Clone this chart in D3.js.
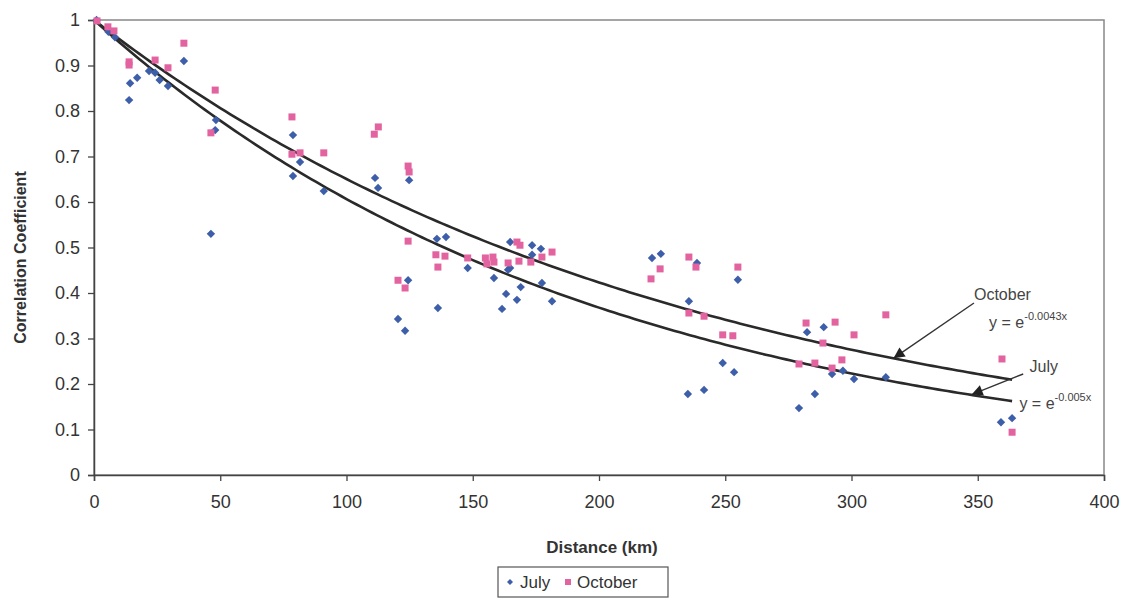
<!DOCTYPE html>
<html>
<head>
<meta charset="utf-8">
<script src="https://cdn.jsdelivr.net/npm/d3@7"></script>
<style>
  body { margin: 0; background: #fff; }
  svg { font-family: "Liberation Sans", Arial, sans-serif; }
</style>
</head>
<body>
<svg id="chart" width="1130" height="599"></svg>
<script>
// ---- data ----
const julyX = [1, 5.7, 8.3, 14.3, 13.9, 17.1, 21.8, 24.2, 26, 29.3, 35.6, 48.3, 48, 46.3, 78.8, 78.8, 81.6, 91,
  111.3, 112.5, 124.8, 124.4, 120.4, 123.2, 135.8, 139.4, 136.2, 148, 158.4, 161.6, 163.2, 164.8, 164, 164.8, 167.5, 169, 173.5, 173.5, 177, 177.4, 181.4,
  221, 224.5, 238.8, 255, 235.6, 249, 253.5, 235.2, 241.6, 282.4, 289, 292.3, 296.6, 301, 285.5, 279.2, 313.6, 359.2, 363.6];
const julyY = [1.0, 0.974, 0.962, 0.861, 0.824, 0.873, 0.888, 0.884, 0.868, 0.855, 0.91, 0.78, 0.758, 0.53, 0.747, 0.657, 0.688, 0.624,
  0.653, 0.631, 0.648, 0.428, 0.343, 0.317, 0.519, 0.523, 0.367, 0.455, 0.433, 0.365, 0.398, 0.512, 0.451, 0.455, 0.385, 0.413, 0.505, 0.484, 0.497, 0.422, 0.382,
  0.477, 0.486, 0.466, 0.429, 0.382, 0.246, 0.226, 0.178, 0.187, 0.314, 0.325, 0.222, 0.229, 0.211, 0.178, 0.147, 0.215, 0.116, 0.125];
const octX = [1.2, 5.5, 7.9, 13.9, 13.9, 24.2, 29.3, 35.6, 48, 46.3, 78.4, 78.4, 81.6, 91,
  112.6, 111, 124.4, 124.8, 124.4, 120.4, 123.2, 135.4, 139, 136.2, 148, 155, 158, 158.4, 155.6, 164, 167.5, 168.7, 168.3, 173, 177.4, 181.4,
  220.6, 224.2, 235.6, 238.4, 255, 235.6, 241.6, 249, 253, 282, 293.5, 301, 288.7, 279.2, 285.5, 292.3, 296.2, 313.6, 359.6, 363.6];
const octY = [0.998, 0.985, 0.976, 0.908, 0.901, 0.912, 0.895, 0.949, 0.846, 0.752, 0.787, 0.705, 0.708, 0.708,
  0.765, 0.749, 0.679, 0.666, 0.514, 0.428, 0.411, 0.484, 0.481, 0.457, 0.477, 0.477, 0.479, 0.468, 0.464, 0.466, 0.512, 0.505, 0.470, 0.468, 0.479, 0.490,
  0.431, 0.453, 0.479, 0.457, 0.457, 0.356, 0.349, 0.308, 0.306, 0.334, 0.336, 0.308, 0.290, 0.244, 0.246, 0.235, 0.253, 0.352, 0.255, 0.094];
const julyK = 0.005, octK = 0.0043;
const fitMaxX = 363.6;
const xTicks = [0, 50, 100, 150, 200, 250, 300, 350, 400];
const yTicks = [0, 0.1, 0.2, 0.3, 0.4, 0.5, 0.6, 0.7, 0.8, 0.9, 1];
const yTickLabels = ["0", "0.1", "0.2", "0.3", "0.4", "0.5", "0.6", "0.7", "0.8", "0.9", "1"];

// ---- layout ----
const svg = d3.select("#chart");
const L = 94, R = 1104, T = 20, B = 475;
const x = d3.scaleLinear().domain([0, 400]).range([L, R]);
const y = d3.scaleLinear().domain([0, 1]).range([B, T]);
const blue = "#3d5ea8", pink = "#e2639f", txt = "#333";

// frame
svg.append("rect").attr("x", L).attr("y", T).attr("width", R - L).attr("height", B - T)
  .attr("fill", "none").attr("stroke", "#888").attr("stroke-width", 1.5);

// axes
const xAxis = svg.append("g").attr("transform", `translate(0,${B})`)
  .call(d3.axisBottom(x).tickValues(xTicks).tickSize(6).tickPadding(14).tickFormat(d3.format("d")));
const yAxis = svg.append("g").attr("transform", `translate(${L},0)`)
  .call(d3.axisLeft(y).tickValues(yTicks).tickSize(6).tickPadding(8).tickFormat((d, i) => yTickLabels[i]));
[xAxis, yAxis].forEach(g => {
  g.select(".domain").attr("stroke", "#444").attr("stroke-width", 1.5);
  g.selectAll(".tick line").attr("stroke", "#444").attr("stroke-width", 1.3);
  g.selectAll(".tick text").attr("fill", txt).attr("font-size", 18).attr("font-family", "Liberation Sans, Arial, sans-serif");
});

// axis titles
svg.append("text").attr("x", (L + R) / 2 + 3).attr("y", 553).attr("text-anchor", "middle")
  .attr("font-weight", "bold").attr("font-size", 17).attr("fill", txt).text("Distance (km)");
svg.append("text").attr("transform", `translate(26,${(T + B) / 2 + 10}) rotate(-90)`).attr("text-anchor", "middle")
  .attr("font-weight", "bold").attr("font-size", 16).attr("fill", txt).text("Correlation Coefficient");

// fitted curves
const fitXs = d3.range(0, fitMaxX + 0.01, 2).concat([fitMaxX]);
const line = k => d3.line().x(d => x(d)).y(d => y(Math.exp(-k * d)))(fitXs);
svg.append("path").attr("d", line(julyK)).attr("fill", "none").attr("stroke", "#2a2a2a").attr("stroke-width", 2.6);
svg.append("path").attr("d", line(octK)).attr("fill", "none").attr("stroke", "#2a2a2a").attr("stroke-width", 2.6);

// points
const diamondPath = r => `M0,${-r}L${r},0L0,${r}L${-r},0Z`;
svg.append("g").selectAll("path").data(julyX.map((d, i) => [d, julyY[i]])).join("path")
  .attr("d", diamondPath(4.2)).attr("transform", d => `translate(${x(d[0])},${y(d[1])})`).attr("fill", blue);
svg.append("g").selectAll("rect").data(octX.map((d, i) => [d, octY[i]])).join("rect")
  .attr("x", d => x(d[0]) - 3.5).attr("y", d => y(d[1]) - 3.5).attr("width", 7).attr("height", 7).attr("fill", pink);

// annotations
const defs = svg.append("defs");
defs.append("marker").attr("id", "ah").attr("viewBox", "0 0 10 10").attr("refX", 9).attr("refY", 5)
  .attr("markerUnits", "userSpaceOnUse").attr("markerWidth", 13).attr("markerHeight", 11).attr("orient", "auto")
  .append("path").attr("d", "M0,0 L10,5 L0,10 z").attr("fill", "#222");

// October label + arrow
const octArrowX = 317;
svg.append("line").attr("x1", x(348.5)).attr("y1", 303).attr("x2", x(octArrowX)).attr("y2", y(Math.exp(-octK * octArrowX)) - 1)
  .attr("stroke", "#333").attr("stroke-width", 1.4).attr("marker-end", "url(#ah)");
svg.append("text").attr("x", x(348.5)).attr("y", 300).attr("font-size", 16).attr("fill", "#444").text("October");
const eq1 = svg.append("text").attr("x", x(354.5)).attr("y", 328).attr("font-size", 16).attr("fill", "#444");
eq1.append("tspan").text("y = e");
eq1.append("tspan").attr("dy", -8).attr("font-size", 11).text("-0.0043x");

// July label + arrow
const julArrowX = 348;
svg.append("line").attr("x1", x(368)).attr("y1", 374).attr("x2", x(julArrowX)).attr("y2", y(Math.exp(-julyK * julArrowX)) - 1)
  .attr("stroke", "#333").attr("stroke-width", 1.4).attr("marker-end", "url(#ah)");
svg.append("text").attr("x", x(370.5)).attr("y", 372).attr("font-size", 16).attr("fill", "#444").text("July");
const eq2 = svg.append("text").attr("x", x(366.5)).attr("y", 409).attr("font-size", 16).attr("fill", "#444");
eq2.append("tspan").text("y = e");
eq2.append("tspan").attr("dy", -8).attr("font-size", 11).text("-0.005x");

// legend
const lg = svg.append("g").attr("transform", "translate(498,567)");
lg.append("rect").attr("width", 170).attr("height", 30).attr("fill", "#fff").attr("stroke", "#555").attr("stroke-width", 1.2);
lg.append("path").attr("d", diamondPath(3)).attr("transform", "translate(12,15)").attr("fill", blue);
lg.append("text").attr("x", 22).attr("y", 21).attr("font-size", 17).attr("fill", txt).text("July");
lg.append("rect").attr("x", 67).attr("y", 12).attr("width", 6).attr("height", 6).attr("fill", pink);
lg.append("text").attr("x", 79).attr("y", 21).attr("font-size", 17).attr("fill", txt).text("October");
</script>
</body>
</html>
